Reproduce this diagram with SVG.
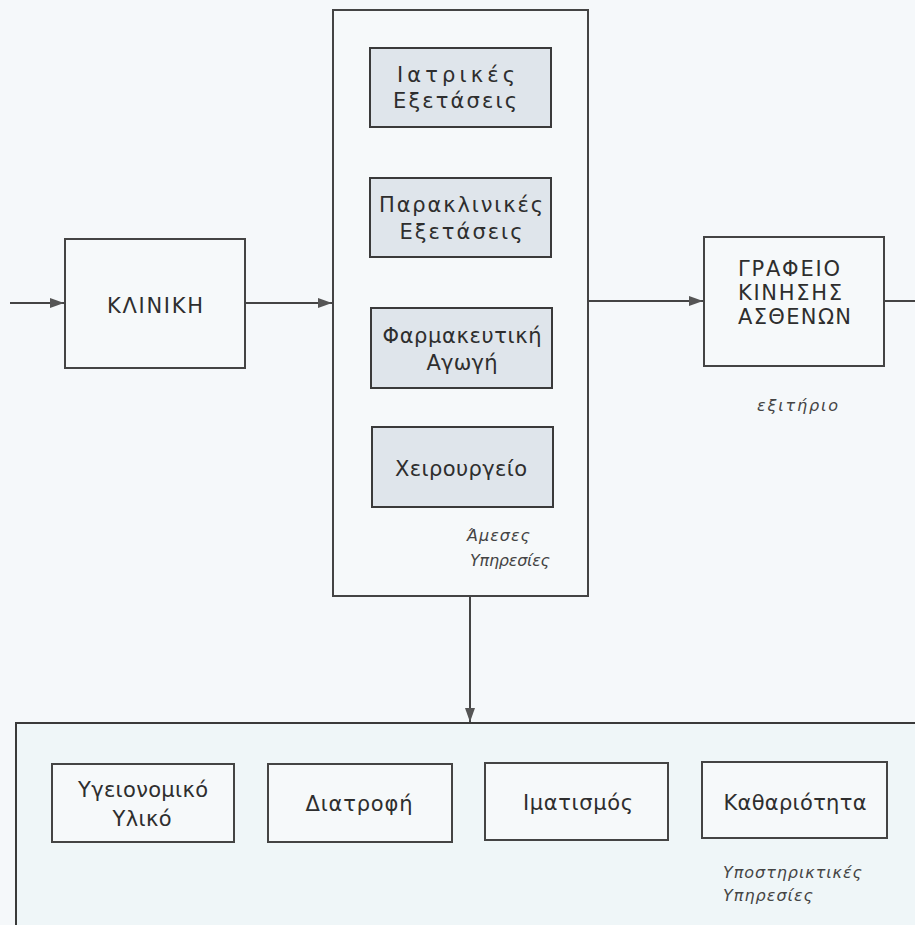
<svg xmlns="http://www.w3.org/2000/svg" width="915" height="925" viewBox="0 0 915 925">
<defs>
<marker id="ah" viewBox="0 0 14 10" refX="14" refY="5" markerWidth="14" markerHeight="10" markerUnits="userSpaceOnUse" orient="auto">
<path d="M0,0 L14,5 L0,10 Z" fill="#555"/>
</marker>
<style>
.box{fill:#f6f9fa;stroke:#444;stroke-width:2}
.inner{fill:#dfe5eb;stroke:#3a3a3a;stroke-width:2}
.sub{fill:#eff6f8;stroke:#3a3a3a;stroke-width:2}
.t{font-family:"DejaVu Sans","Liberation Sans",sans-serif;font-size:21px;fill:#2e2e2e;text-anchor:middle}
.c{font-family:"DejaVu Sans","Liberation Sans",sans-serif;font-size:21px;fill:#2e2e2e}
.i{font-family:"DejaVu Sans","Liberation Sans",sans-serif;font-size:16px;font-style:italic;fill:#444}
.ln{stroke:#444;stroke-width:2;fill:none}
</style>
</defs>
<rect x="0" y="0" width="915" height="925" fill="#f5f8fa"/>

<g id="support">
<rect class="sub" x="16" y="723" width="910" height="220"/>
<text class="i" x="723" y="878" textLength="139">Υποστηρικτικές</text>
<text class="i" x="723" y="901" textLength="90">Υπηρεσίες</text>
</g>
<g id="ygeionomiko">
<rect class="box" x="52" y="764" width="182" height="78"/>
<text class="t" x="143" y="797" textLength="130">Υγειονομικό</text>
<text class="t" x="142" y="826" textLength="59">Υλικό</text>
</g>
<g id="diatrofi">
<rect class="box" x="268" y="764" width="184" height="78"/>
<text class="t" x="359" y="811" textLength="107">Διατροφή</text>
</g>
<g id="imatismos">
<rect class="box" x="485" y="763" width="183" height="77"/>
<text class="t" x="578" y="810" textLength="110">Ιματισμός</text>
</g>
<g id="katharioteta">
<rect class="box" x="702" y="762" width="185" height="76"/>
<text class="t" x="795" y="810" textLength="143">Καθαριότητα</text>
</g>

<g id="amesees">
<rect class="box" x="333" y="10" width="255" height="586"/>
<text class="i" x="467" y="541" textLength="63">Άμεσες</text>
<text class="i" x="470" y="566" textLength="80">Υπηρεσίες</text>
</g>
<g id="iatrikes">
<rect class="inner" x="370" y="48" width="181" height="79"/>
<text class="t" x="456" y="82" textLength="118">Ιατρικές</text>
<text class="t" x="455" y="108" textLength="124">Εξετάσεις</text>
</g>
<g id="paraklinikes">
<rect class="inner" x="370" y="178" width="181" height="79"/>
<text class="t" x="461" y="212" textLength="164">Παρακλινικές</text>
<text class="t" x="461" y="239" textLength="123">Εξετάσεις</text>
</g>
<g id="farmakeftiki">
<rect class="inner" x="371" y="308" width="181" height="80"/>
<text class="t" x="462" y="343" textLength="159">Φαρμακευτική</text>
<text class="t" x="462" y="370" textLength="71">Αγωγή</text>
</g>
<g id="xeirourgeio">
<rect class="inner" x="372" y="427" width="181" height="80"/>
<text class="t" x="461" y="476" textLength="132">Χειρουργείο</text>
</g>

<g id="kliniki">
<rect class="box" x="65" y="239" width="180" height="129"/>
<text class="c" x="107" y="313" textLength="96">ΚΛΙΝΙΚΗ</text>
</g>

<g id="grafeio">
<rect class="box" x="704" y="237" width="180" height="129"/>
<text class="c" x="738" y="276" textLength="102">ΓΡΑΦΕΙΟ</text>
<text class="c" x="738" y="300" textLength="104">ΚΙΝΗΣΗΣ</text>
<text class="c" x="738" y="324" textLength="113">ΑΣΘΕΝΩΝ</text>
<text class="i" x="757" y="411" textLength="81">εξιτήριο</text>
</g>

<g id="connectors">
<line class="ln" x1="10" y1="303" x2="64" y2="303" marker-end="url(#ah)"/>
<line class="ln" x1="245" y1="303" x2="332" y2="303" marker-end="url(#ah)"/>
<line class="ln" x1="588" y1="301" x2="703" y2="301" marker-end="url(#ah)"/>
<line class="ln" x1="884" y1="301" x2="915" y2="301"/>
<line class="ln" x1="470" y1="596" x2="470" y2="722" marker-end="url(#ah)"/>
</g>
</svg>
